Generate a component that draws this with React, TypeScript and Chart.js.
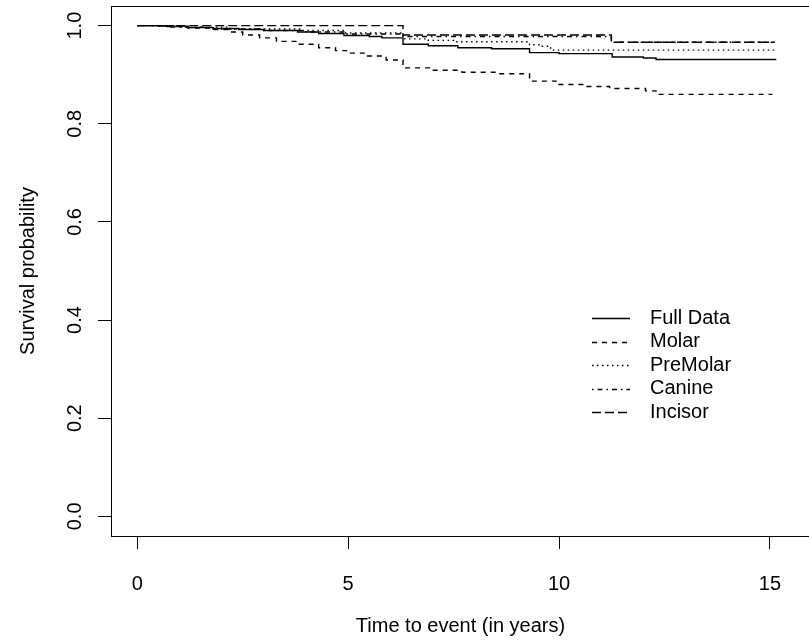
import React, { useEffect, useRef } from "react";
import { Chart, registerables } from "chart.js";

Chart.register(...registerables);

// ---- data (Kaplan-Meier step curves) ----
const fullTime = [0, 0.5, 1.2, 1.8, 2.4, 3.0, 3.8, 4.3, 4.9, 5.5, 5.8, 6.3, 6.9, 7.6, 8.4, 9.3, 10.0, 11.26, 12.0, 12.3, 15.15];
const fullSurv = [1.0, 0.999, 0.996, 0.994, 0.992, 0.99, 0.987, 0.984, 0.98, 0.978, 0.975, 0.962, 0.959, 0.955, 0.953, 0.945, 0.943, 0.936, 0.934, 0.931, 0.931];

const molarTime = [0, 0.6, 1.2, 1.8, 2.2, 2.5, 2.9, 3.3, 3.8, 4.3, 4.7, 5.0, 5.4, 5.9, 6.3, 7.0, 7.7, 8.5, 9.3, 10.0, 10.6, 11.2, 12.05, 12.3, 15.06];
const molarSurv = [1.0, 0.998, 0.995, 0.992, 0.987, 0.981, 0.975, 0.968, 0.962, 0.955, 0.949, 0.944, 0.938, 0.93, 0.914, 0.909, 0.905, 0.902, 0.887, 0.88, 0.876, 0.872, 0.867, 0.86, 0.86];

const premolarTime = [0, 1.0, 2.2, 3.9, 4.9, 6.3, 6.9, 7.5, 9.3, 9.55, 9.8, 15.15];
const premolarSurv = [1.0, 0.997, 0.993, 0.99, 0.985, 0.973, 0.97, 0.967, 0.961, 0.958, 0.95, 0.95];

const canineTime = [0, 0.8, 1.8, 3.0, 4.0, 4.9, 6.3, 11.24, 15.15];
const canineSurv = [1.0, 0.997, 0.993, 0.99, 0.987, 0.983, 0.978, 0.966, 0.966];

const incisorTime = [0, 6.3, 11.24, 15.1];
const incisorSurv = [1.0, 0.981, 0.966, 0.966];

const seriesLabels = ["Full Data", "Molar", "PreMolar", "Canine", "Incisor"];
const xTicks = [0, 5, 10, 15];
const yTicks = [0, 0.2, 0.4, 0.6, 0.8, 1.0];

const FONT = '"Liberation Sans", Arial, Helvetica, sans-serif';
const FS = 20;

const toPts = (t: number[], s: number[]) => t.map((v, i) => ({ x: v, y: s[i] }));

const boxPlugin = {
  id: "boxPlugin",
  afterDraw(chart: any) {
    const { ctx, chartArea } = chart;
    ctx.save();
    ctx.strokeStyle = "#000";
    ctx.lineWidth = 1;
    ctx.strokeRect(
      Math.round(chartArea.left) + 0.5,
      Math.round(chartArea.top) + 0.5,
      Math.round(chartArea.right - chartArea.left),
      Math.round(chartArea.bottom - chartArea.top)
    );
    // legend
    const x0 = 592, x1 = 630, tx = 650, y0 = 318, dy = 23.5;
    ctx.font = `${FS}px ${FONT}`;
    ctx.textBaseline = "middle";
    ctx.textAlign = "left";
    chart.data.datasets.forEach((ds: any, i: number) => {
      const y = Math.round(y0 + i * dy) + 0.5;
      ctx.beginPath();
      ctx.setLineDash(ds.borderDash || []);
      ctx.lineWidth = ds.borderWidth;
      ctx.strokeStyle = ds.borderColor;
      ctx.moveTo(x0, y);
      ctx.lineTo(x1, y);
      ctx.stroke();
      ctx.setLineDash([]);
      ctx.fillStyle = "#000";
      ctx.fillText(ds.label, tx, y0 + i * dy);
    });
    ctx.restore();
  },
};

export default function App() {
  const ref = useRef<HTMLCanvasElement | null>(null);
  useEffect(() => {
    if (!ref.current) return;
    const mk = (label: string, t: number[], s: number[], dash: number[]) => ({
      label,
      data: toPts(t, s),
      borderColor: "#000",
      borderWidth: 1.4,
      borderDash: dash,
      pointRadius: 0,
      fill: false,
      stepped: true,
      tension: 0,
    });
    const chart = new Chart(ref.current, {
      type: "line",
      data: {
        datasets: [
          mk(seriesLabels[0], fullTime, fullSurv, []),
          mk(seriesLabels[1], molarTime, molarSurv, [5, 5]),
          mk(seriesLabels[2], premolarTime, premolarSurv, [1.5, 3.5]),
          mk(seriesLabels[3], canineTime, canineSurv, [1.5, 4, 5, 4]),
          mk(seriesLabels[4], incisorTime, incisorSurv, [9, 4]),
        ],
      },
      options: {
        animation: false,
        responsive: true,
        maintainAspectRatio: false,
        layout: { padding: { top: 6, left: 0, right: 0, bottom: 0 } },
        plugins: { legend: { display: false }, tooltip: { enabled: false } },
        scales: {
          x: {
            type: "linear",
            min: -0.6235,
            max: 15.95,
            afterBuildTicks: (s: any) => {
              s.ticks = xTicks.map((v) => ({ value: v }));
            },
            afterFit: (s: any) => {
              s.height = 107;
              s.paddingLeft = 0;
              s.paddingRight = 0;
              s.paddingTop = 0;
              s.paddingBottom = 0;
            },
            grid: { drawOnChartArea: false, drawTicks: true, tickLength: 13, color: "#000", lineWidth: 1 },
            border: { display: true, color: "#000", width: 1 },
            ticks: {
              color: "#000",
              font: { family: FONT, size: FS },
              padding: 23,
              maxRotation: 0,
              minRotation: 0,
              autoSkip: false,
              callback: (v: any) => String(v),
            },
            title: {
              display: true,
              text: "Time to event (in years)",
              color: "#000",
              font: { family: FONT, size: FS },
              padding: { top: 0, bottom: 5 },
            },
          },
          y: {
            type: "linear",
            min: -0.04,
            max: 1.04,
            afterBuildTicks: (s: any) => {
              s.ticks = yTicks.map((v) => ({ value: v }));
            },
            afterFit: (s: any) => {
              s.width = 111;
              s.paddingLeft = 0;
              s.paddingRight = 0;
              s.paddingTop = 0;
              s.paddingBottom = 0;
            },
            grid: { drawOnChartArea: false, drawTicks: true, tickLength: 13, color: "#000", lineWidth: 1 },
            border: { display: true, color: "#000", width: 1 },
            ticks: {
              color: "#000",
              font: { family: FONT, size: FS },
              padding: 9,
              minRotation: 90,
              maxRotation: 90,
              crossAlign: "center",
              autoSkip: false,
              callback: (v: any) => Number(v).toFixed(1),
            },
            title: {
              display: true,
              text: "Survival probability",
              color: "#000",
              font: { family: FONT, size: FS },
              padding: { top: 16, bottom: 0 },
            },
          },
        },
      },
      plugins: [boxPlugin],
    } as any);
    return () => chart.destroy();
  }, []);

  return (
    <div style={{ position: "fixed", left: 0, top: 0, width: 809, height: 643, overflow: "hidden", background: "#fff" }}>
      <div style={{ position: "relative", width: 810, height: 643 }}>
        <canvas ref={ref} />
      </div>
    </div>
  );
}
